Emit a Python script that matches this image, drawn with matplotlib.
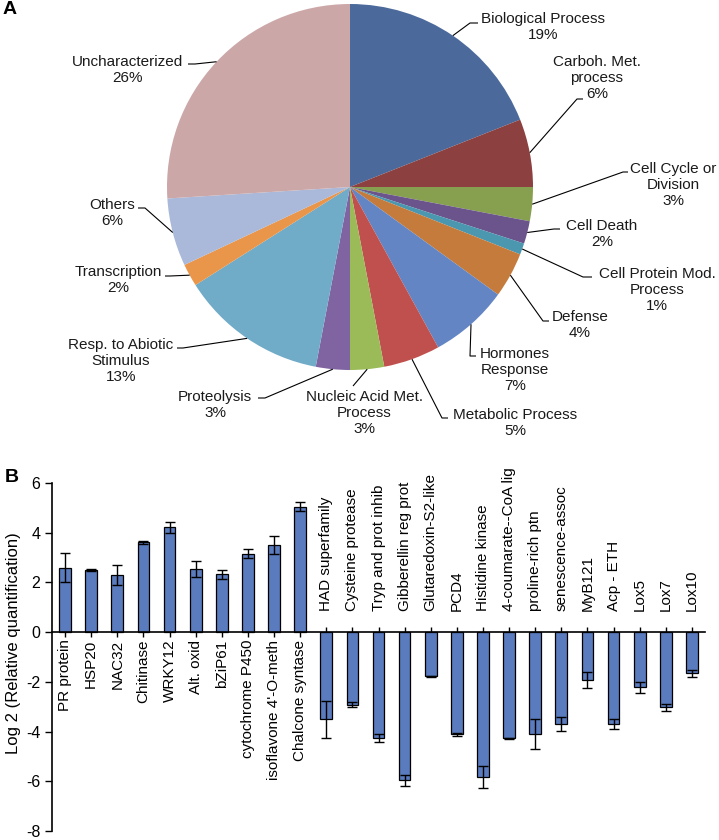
import matplotlib

matplotlib.use("Agg")
import matplotlib.pyplot as plt
import numpy as np

plt.rcParams["font.family"] = ["Liberation Sans", "DejaVu Sans"]
plt.rcParams["axes.unicode_minus"] = False

# panel A: functional categories (percent)
pie_labels = [
    "Biological Process",
    "Carboh. Met.\nprocess",
    "Cell Cycle or\nDivision",
    "Cell Death",
    "Cell Protein Mod.\nProcess",
    "Defense",
    "Hormones\nResponse",
    "Metabolic Process",
    "Nucleic Acid Met.\nProcess",
    "Proteolysis",
    "Resp. to Abiotic\nStimulus",
    "Transcription",
    "Others",
    "Uncharacterized",
]
pie_values = [19, 6, 3, 2, 1, 4, 7, 5, 3, 3, 13, 2, 6, 26]
pie_colors = [
    "#4b6a9b", "#8c403f", "#87a04f", "#6a548b", "#4b97b0", "#c47b3b", "#6485c4",
    "#c0504d", "#9bbb59", "#8064a2", "#70abc8", "#e9964b", "#aab9d9", "#cca7a8",
]

# panel B: log2 relative quantification
genes = [
    "PR protein", "HSP20", "NAC32", "Chitinase", "WRKY12", "Alt. oxid", "bZiP61",
    "cytochrome P450", "isoflavone 4'-O-meth", "Chalcone syntase",
    "HAD superfamily", "Cysteine protease", "Tryp and prot inhib",
    "Gibberellin reg prot", "Glutaredoxin-S2-like", "PCD4", "Histidine kinase",
    "4-coumarate--CoA lig", "proline-rich ptn", "senescence-assoc", "MyB121",
    "Acp - ETH", "Lox5", "Lox7", "Lox10",
]
log2_values = [
    2.6, 2.5, 2.3, 3.62, 4.22, 2.55, 2.32, 3.15, 3.5, 5.05,
    -3.5, -2.93, -4.27, -5.95, -1.78, -4.1, -5.84, -4.27, -4.1, -3.7,
    -1.93, -3.7, -2.22, -3.02, -1.65,
]
log2_errors = [
    0.6, 0.05, 0.4, 0.06, 0.22, 0.33, 0.2, 0.18, 0.37, 0.17,
    0.75, 0.1, 0.16, 0.22, 0.03, 0.06, 0.45, 0.03, 0.62, 0.27,
    0.33, 0.2, 0.21, 0.14, 0.14,
]

W, H = 719, 840
fig = plt.figure(figsize=(W / 100, H / 100), dpi=100)

# ---- pie ----
cx, cy, rad = 350, 187, 183
top_h = 445
ax = fig.add_axes([0, (H - top_h) / H, 1, top_h / H])
wedges, _ = ax.pie(
    pie_values, colors=pie_colors, startangle=90, counterclock=False,
    radius=1, center=(0, 0), wedgeprops=dict(linewidth=0),
)
ax.set_aspect("auto")
ax.set_xlim(-cx / rad, (W - cx) / rad)
ax.set_ylim((cy - top_h) / rad, cy / rad)
ax.axis("off")


def px(x, y):
    return (x - cx) / rad, (cy - y) / rad


# text centre, leader elbow, leader end (pixels)
layout = [
    ((543, 27), (470, 23), (478, 23)),
    ((597, 78), (577, 99), (583, 99)),
    ((673, 185), (623, 172), (628, 172)),
    ((602, 234), (554, 229), (560, 229)),
    ((657, 290), (583, 277), (592, 277)),
    ((580, 325), (543, 321), (549, 321)),
    ((515, 370), (470, 356), (476, 356)),
    ((515, 423), (442, 418), (448, 418)),
    ((364, 413), (353, 386), (353, 386)),
    ((215, 405), (265, 398), (258, 398)),
    ((121, 361), (183, 348), (177, 348)),
    ((118, 280), (170, 276), (165, 276)),
    ((112, 213), (145, 208), (138, 208)),
    ((128, 70), (195, 64), (188, 64)),
]

for w, name, val, (tpos, elbow, end) in zip(wedges, pie_labels, pie_values, layout):
    mid = np.deg2rad((w.theta1 + w.theta2) / 2)
    sx, sy = np.cos(mid), np.sin(mid)
    ex, ey = px(*elbow)
    tx, ty = px(*end)
    ax.plot([sx, ex, tx], [sy, ey, ty], color="black", lw=0.8, solid_capstyle="butt")
    x, y = px(*tpos)
    ax.text(x, y, f"{name}\n{val}%", ha="center", va="center", multialignment="center",
            fontsize=11, linespacing=1.15, color="#1a1a1a")

fig.text(3 / W, 1 - 10 / H, "A", fontsize=14, fontweight="bold", va="center", ha="left")
fig.text(5 / W, 1 - 477 / H, "B", fontsize=14, fontweight="bold", va="center", ha="left")

# ---- bars ----
left, right, top, bottom = 52, 705, 483, 831
bx = fig.add_axes([left / W, (H - bottom) / H, (right - left) / W, (bottom - top) / H])
x = np.arange(len(genes))
bx.bar(x, log2_values, width=0.45, color="#5a7bbd", edgecolor="black", linewidth=0.9,
       yerr=log2_errors, capsize=3.5, error_kw=dict(elinewidth=1, capthick=1, ecolor="black"),
       zorder=2)
bx.set_xlim(-0.5, len(genes) - 0.5)
bx.set_ylim(-8, 6)
bx.set_yticks(np.arange(-8, 7, 2))
bx.tick_params(axis="y", labelsize=11.5, direction="out", length=5, width=1)
bx.set_xticks(x)
bx.set_xticklabels([])
bx.tick_params(axis="x", direction="inout", length=7, width=1)
bx.spines["top"].set_visible(False)
bx.spines["right"].set_visible(False)
bx.spines["bottom"].set_position(("data", 0))
bx.spines["left"].set_linewidth(1.2)
bx.spines["bottom"].set_linewidth(1.2)
bx.set_ylabel("Log 2 (Relative quantification)", fontsize=12)
bx.yaxis.set_label_coords(-0.048, 0.54)

for xi, name, val in zip(x, genes, log2_values):
    if val >= 0:
        bx.text(xi, -0.3, name, rotation=90, ha="center", va="top", fontsize=11)
    else:
        bx.text(xi, 0.85, name, rotation=90, ha="center", va="bottom", fontsize=11)

fig.savefig("out.png", dpi=100)
